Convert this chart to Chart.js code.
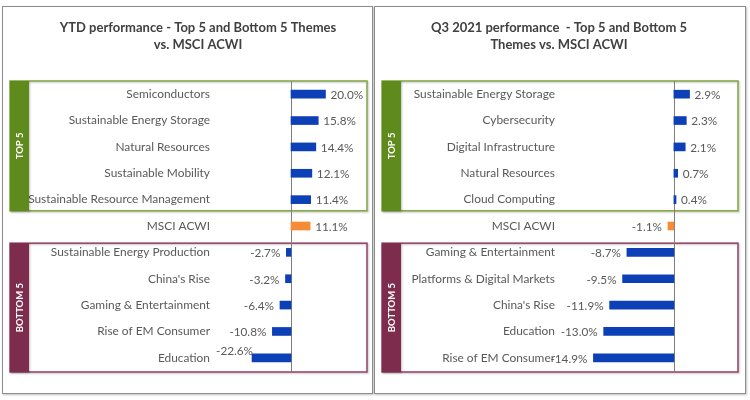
<!DOCTYPE html>
<html>
<head>
<meta charset="utf-8">
<script src="https://cdn.jsdelivr.net/npm/chart.js@4.4.0/dist/chart.umd.min.js"></script>
<style>
	html, body { margin: 0; padding: 0; background: #fff; }
	body { width: 750px; height: 400px; position: relative; overflow: hidden; }
	.panel { position: absolute; top: 6px; height: 386px; border: 1px solid #8c8c8c; box-shadow: 1px 1px 2px rgba(0,0,0,0.25); background: #fff; }
	canvas { position: absolute; top: 0; }
</style>
</head>
<body>
<div class="panel" style="left:2px;width:369px"></div>
<div class="panel" style="left:374px;width:370px"></div>
<canvas id="ytdChart" width="375" height="400" style="left:0"></canvas>
<canvas id="q3Chart" width="375" height="400" style="left:375px"></canvas>
<script>
// --- Dữ liệu ---
const ytdTitle = ["YTD performance - Top 5 and Bottom 5 Themes", "vs. MSCI ACWI"];
const ytdLabels = ["Semiconductors", "Sustainable Energy Storage", "Natural Resources", "Sustainable Mobility", "Sustainable Resource Management", "MSCI ACWI", "Sustainable Energy Production", "China's Rise", "Gaming & Entertainment", "Rise of EM Consumer", "Education"];
const ytdValues = [20.0, 15.8, 14.4, 12.1, 11.4, 11.1, -2.7, -3.2, -6.4, -10.8, -22.6];

const q3Title = ["Q3 2021 performance  - Top 5 and Bottom 5", "Themes vs. MSCI ACWI"];
const q3Labels = ["Sustainable Energy Storage", "Cybersecurity", "Digital Infrastructure", "Natural Resources", "Cloud Computing", "MSCI ACWI", "Gaming & Entertainment", "Platforms & Digital Markets", "China's Rise", "Education", "Rise of EM Consumer"];
const q3Values = [2.9, 2.3, 2.1, 0.7, 0.4, -1.1, -8.7, -9.5, -11.9, -13.0, -14.9];

const groupNames = ["TOP 5", "BOTTOM 5"];
const benchmarkIndex = 5;

// --- Màu sắc ---
const BLUE = "#0d40b6";
const ORANGE = "#f58b34";
const GREEN = "#5f8b1c";
const GREEN_LINE = "#80a640";
const MAROON = "#7e2c4d";
const MAROON_LINE = "#924063";
const TEXT = "#595959";
const FONT = "Lato, 'Liberation Sans', sans-serif";

const fmtPct = (v) => v.toFixed(1) + "%";

// Vẽ tiêu đề, khung Top/Bottom, đường 0 và nhãn giá trị
const panelPlugin = {
	id: "panelDeco",
	beforeDatasetsDraw(chart, args, opts) {
		const { ctx, chartArea, scales: { x, y } } = chart;
		const mid1 = (y.getPixelForValue(4) + y.getPixelForValue(5)) / 2;
		const mid2 = (y.getPixelForValue(5) + y.getPixelForValue(6)) / 2;
		const boxes = [
			{ top: chartArea.top, bottom: mid1 - 2, fill: GREEN, line: GREEN_LINE, name: groupNames[0] },
			{ top: mid2 + 4, bottom: chartArea.bottom + 1, fill: MAROON, line: MAROON_LINE, name: groupNames[1] }
		];
		ctx.save();
		boxes.forEach(b => {
			const h = b.bottom - b.top;
			ctx.shadowColor = "rgba(0,0,0,0.25)";
			ctx.shadowBlur = 2;
			ctx.shadowOffsetX = 1;
			ctx.shadowOffsetY = 1;
			ctx.strokeStyle = b.line;
			ctx.lineWidth = 1.5;
			ctx.strokeRect(opts.left, b.top, opts.right - opts.left, h);
			ctx.fillStyle = b.fill;
			ctx.fillRect(opts.left, b.top, 19, h);
			ctx.shadowColor = "transparent";
			ctx.save();
			ctx.translate(opts.left + 9.5, b.top + h / 2);
			ctx.rotate(-Math.PI / 2);
			ctx.fillStyle = "#fff";
			ctx.font = "bold 9.5px " + FONT;
			ctx.textAlign = "center";
			ctx.textBaseline = "middle";
			ctx.fillText(b.name, 0, 0);
			ctx.restore();
		});
		const x0 = Math.round(x.getPixelForValue(0)) + 0.5;
		ctx.strokeStyle = "#7f7f7f";
		ctx.lineWidth = 1;
		ctx.beginPath();
		ctx.moveTo(x0, chartArea.top);
		ctx.lineTo(x0, chartArea.bottom + 1);
		ctx.stroke();
		ctx.restore();
	},
	afterDatasetsDraw(chart, args, opts) {
		const { ctx } = chart;
		const values = chart.data.datasets[0].data;
		ctx.save();
		ctx.font = "11.75px " + FONT;
		ctx.fillStyle = TEXT;
		ctx.textBaseline = "middle";
		chart.getDatasetMeta(0).data.forEach((bar, i) => {
			const v = values[i];
			if ((opts.lift || []).includes(i)) {
				ctx.textAlign = "right";
				ctx.fillText(fmtPct(v), bar.x + 1, bar.y - 7);
			} else if (v >= 0) {
				ctx.textAlign = "left";
				ctx.fillText(fmtPct(v), bar.x + 5, bar.y + 1);
			} else {
				ctx.textAlign = "right";
				ctx.fillText(fmtPct(v), bar.x - 6, bar.y + 1);
			}
		});
		// tiêu đề hai dòng
		ctx.font = "bold 13px " + FONT;
		ctx.fillStyle = "#404040";
		ctx.textAlign = "center";
		opts.title.forEach((line, i) => ctx.fillText(line, opts.titleX, 28 + i * 17));
		ctx.restore();
	}
};

function makeChart(id, title, labels, values, cfg) {
	return new Chart(document.getElementById(id).getContext("2d"), {
		type: "bar",
		data: {
			labels,
			datasets: [{
				data: values,
				backgroundColor: values.map((v, i) => i === benchmarkIndex ? ORANGE : BLUE),
				barThickness: 8,
				borderWidth: 0
			}]
		},
		options: {
			indexAxis: "y",
			responsive: false,
			animation: false,
			layout: { padding: { left: 0, right: cfg.padRight, top: 81, bottom: 29 } },
			scales: {
				x: { display: false, min: cfg.min, max: cfg.max },
				y: {
					afterFit: (s) => { s.width = cfg.axisWidth; },
					grid: { display: false, drawTicks: false },
					border: { display: false },
					ticks: { padding: 6, color: TEXT, autoSkip: false, font: { family: FONT, size: 11.9 } }
				}
			},
			plugins: {
				legend: { display: false },
				tooltip: { enabled: false },
				panelDeco: { left: cfg.boxLeft, right: cfg.boxRight, lift: cfg.lift, title, titleX: cfg.titleX }
			}
		},
		plugins: [panelPlugin]
	});
}

makeChart("ytdChart", ytdTitle, ytdLabels, ytdValues, { padRight: 9, axisWidth: 216, min: -43.5, max: 43.5, boxLeft: 10, boxRight: 367, lift: [10], titleX: 198 });
makeChart("q3Chart", q3Title, q3Labels, q3Values, { padRight: 14, axisWidth: 186, min: -20.9, max: 11.5, boxLeft: 7, boxRight: 363, lift: [], titleX: 184 });
</script>
</body>
</html>
